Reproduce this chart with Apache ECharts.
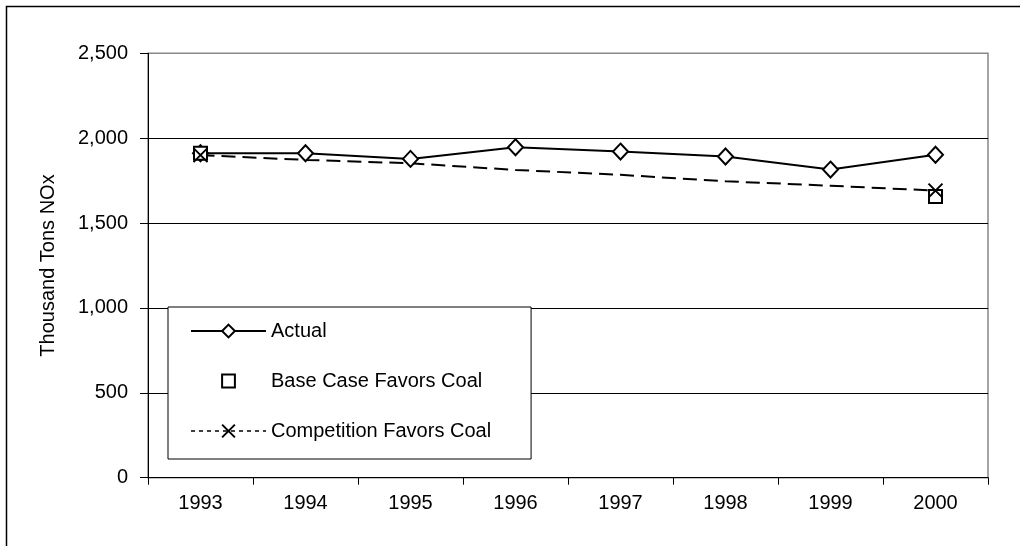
<!DOCTYPE html>
<html>
<head>
<meta charset="utf-8">
<script src="https://cdn.jsdelivr.net/npm/echarts@6/dist/echarts.min.js"></script>
<style>
  html, body { margin: 0; padding: 0; background: #fff; }
  #chart { width: 1020px; height: 546px; }
</style>
</head>
<body>
<div id="chart"></div>
<script>
// data
var years = ['1993', '1994', '1995', '1996', '1997', '1998', '1999', '2000'];
var actual = [1911, 1911, 1878, 1947, 1921, 1892, 1815, 1902];
var baseCase = [1911, null, null, null, null, null, null, 1657];
var competition = [1900, 1872, 1852, 1813, 1784, 1746, 1720, 1691];
var yTicks = { min: 0, max: 2500, step: 500 };

var FONT = 'Liberation Sans, Arial, sans-serif';
var crossPath = 'path://M0,0L10,10M10,0L0,10';

// X marker only on the first and last point of the dashed series
var compData = competition.map(function (v, i) {
  if (i === 0 || i === competition.length - 1) return v;
  return { value: v, symbol: 'none' };
});

var myChart = echarts.init(document.getElementById('chart'), null, { renderer: 'canvas' });

var option = {
  animation: false,
  backgroundColor: '#fff',
  textStyle: { fontFamily: FONT },
  graphic: [{
    // outer chart frame
    type: 'rect',
    silent: true,
    z: -10,
    shape: { x: 6.5, y: 6.5, width: 1100, height: 700 },
    style: { fill: 'none', stroke: '#000', lineWidth: 1.5 }
  }],
  grid: {
    left: 148,
    right: 32,
    top: 53.3,
    bottom: 68.3,
    containLabel: false,
    outerBoundsMode: 'none',
    show: true,
    backgroundColor: 'transparent',
    borderColor: '#888',
    borderWidth: 1.5
  },
  legend: {
    orient: 'vertical',
    left: 168,
    top: 307,
    padding: [14, 40, 18, 22],
    itemGap: 30,
    itemWidth: 75,
    itemHeight: 16,
    selectedMode: false,
    backgroundColor: '#fff',
    borderColor: '#000',
    borderWidth: 1,
    borderRadius: 0,
    textStyle: { fontFamily: FONT, fontSize: 20, color: '#000' },
    data: [
      { name: 'Actual' },
      { name: 'Base Case Favors Coal' },
      { name: 'Competition Favors Coal', lineStyle: { type: [4, 4], width: 1.5 } }
    ]
  },
  xAxis: {
    type: 'category',
    data: years,
    boundaryGap: true,
    axisLine: { show: true, lineStyle: { color: '#000', width: 1 } },
    axisTick: { show: true, inside: false, length: 7, alignWithLabel: false, lineStyle: { color: '#000' } },
    axisLabel: { margin: 16, fontFamily: FONT, fontSize: 20, color: '#000' },
    splitLine: { show: false }
  },
  yAxis: {
    type: 'value',
    min: yTicks.min,
    max: yTicks.max,
    interval: yTicks.step,
    name: 'Thousand Tons NOx',
    nameLocation: 'middle',
    nameGap: 90,
    nameRotate: 90,
    nameTextStyle: { fontFamily: FONT, fontSize: 20, color: '#000' },
    axisLine: { show: true, lineStyle: { color: '#000', width: 1 } },
    axisTick: { show: true, inside: false, length: 8, lineStyle: { color: '#000' } },
    axisLabel: {
      margin: 20,
      fontFamily: FONT,
      fontSize: 20,
      color: '#000',
      formatter: function (v) {
        return String(v).replace(/\B(?=(\d{3})+(?!\d))/g, ',');
      }
    },
    splitLine: {
      show: true,
      lineStyle: { color: ['#000', '#000', '#000', '#000', '#000', '#888'], width: 1 }
    }
  },
  series: [
    {
      name: 'Actual',
      type: 'line',
      data: actual,
      symbol: 'diamond',
      symbolSize: [15, 16],
      showAllSymbol: true,
      lineStyle: { color: '#000', width: 2 },
      itemStyle: { color: '#fff', borderColor: '#000', borderWidth: 2 }
    },
    {
      name: 'Base Case Favors Coal',
      type: 'line',
      data: baseCase,
      connectNulls: false,
      symbol: 'rect',
      symbolSize: 13,
      lineStyle: { color: '#000', width: 0, opacity: 0 },
      itemStyle: { color: '#fff', borderColor: '#000', borderWidth: 2 }
    },
    {
      name: 'Competition Favors Coal',
      type: 'line',
      data: compData,
      symbol: crossPath,
      symbolSize: 14,
      showAllSymbol: true,
      lineStyle: { color: '#000', width: 2, type: [14, 7] },
      itemStyle: { color: 'none', borderColor: '#000', borderWidth: 2 }
    }
  ]
};

myChart.setOption(option);
</script>
</body>
</html>
